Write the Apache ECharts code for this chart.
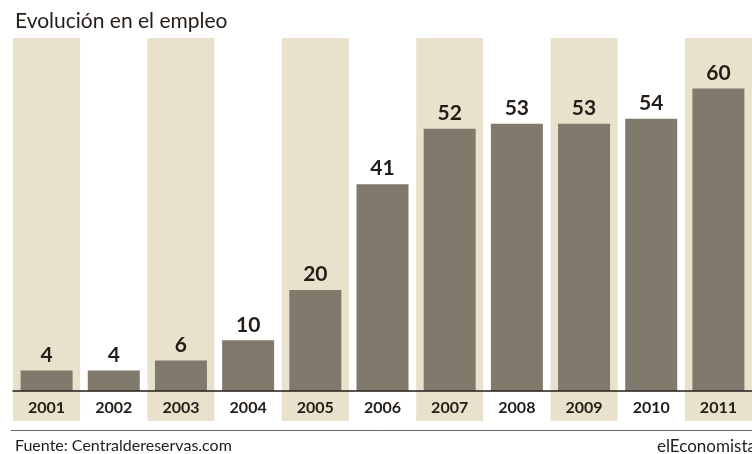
<!DOCTYPE html>
<html>
<head>
<meta charset="utf-8">
<script src="https://cdn.jsdelivr.net/npm/echarts@6/dist/echarts.min.js"></script>
<style>
  html, body { margin: 0; padding: 0; background: #fff; }
  #main { width: 752px; height: 454px; }
</style>
</head>
<body>
<div id="main"></div>
<script>
var years = ['2001', '2002', '2003', '2004', '2005', '2006', '2007', '2008', '2009', '2010', '2011'];
var empleo = [4, 4, 6, 10, 20, 41, 52, 53, 53, 54, 60];
var yMin = -6;
var yMax = 70;

// shaded columns on odd years (above and below the axis line)
var bandUp = [];
var bandDown = [];
for (var i = 0; i < years.length; i++) {
    if (i % 2 === 0) {
        bandUp.push(yMax);
        bandDown.push(yMin);
    } else {
        bandUp.push('-');
        bandDown.push('-');
    }
}

var textColor = '#231c17';
var font = 'Lato';

var chart = echarts.init(document.getElementById('main'));
var option = {
    animation: false,
    title: [
        {
            text: 'Evolución en el empleo',
            left: 10,
            top: 6,
            textStyle: { fontFamily: font, fontSize: 21, fontWeight: 'normal', color: textColor }
        },
        {
            text: 'Fuente: Centraldereservas.com',
            left: 10,
            top: 433,
            textStyle: { fontFamily: font, fontSize: 16, fontWeight: 'normal', color: textColor }
        },
        {
            text: 'elEconomista',
            left: 652,
            top: 433,
            textStyle: { fontFamily: font, fontSize: 17, fontWeight: 'normal', color: textColor }
        }
    ],
    graphic: [
        {
            type: 'line',
            shape: { x1: 11, y1: 430.5, x2: 752, y2: 430.5 },
            style: { stroke: '#6b645c', lineWidth: 1 }
        }
    ],
    grid: { left: 13, right: -4, top: 38, bottom: 33 },
    xAxis: [
        {
            type: 'category',
            data: years,
            z: 10,
            axisLine: { onZero: true, lineStyle: { color: textColor, width: 1.5 } },
            axisTick: { show: false },
            axisLabel: { margin: -21, fontFamily: font, fontSize: 16, fontWeight: 'bold', color: textColor }
        },
        {
            type: 'category',
            data: years,
            show: false
        }
    ],
    yAxis: {
        type: 'value',
        min: yMin,
        max: yMax,
        show: false
    },
    series: [
        {
            type: 'bar',
            xAxisIndex: 1,
            stack: 'band',
            data: bandUp,
            barWidth: 67,
            itemStyle: { color: '#e8e1cc' },
            silent: true,
            z: 1
        },
        {
            type: 'bar',
            xAxisIndex: 1,
            stack: 'band',
            data: bandDown,
            barWidth: 67,
            itemStyle: { color: '#e8e1cc' },
            silent: true,
            z: 1
        },
        {
            type: 'bar',
            xAxisIndex: 0,
            data: empleo,
            barWidth: 52,
            itemStyle: { color: '#807a6d' },
            label: {
                show: true,
                position: 'top',
                distance: 5,
                fontFamily: font,
                fontSize: 21,
                fontWeight: 'bold',
                color: textColor
            },
            z: 2
        }
    ]
};
chart.setOption(option);
</script>
</body>
</html>
